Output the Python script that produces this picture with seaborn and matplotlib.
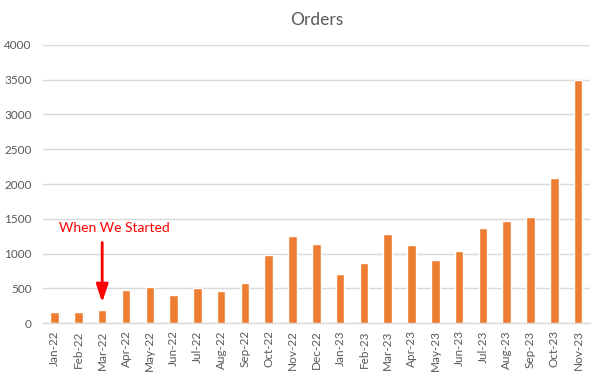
import matplotlib
matplotlib.use("Agg")
import matplotlib.pyplot as plt
import seaborn as sns
import pandas as pd

months = ["Jan-22", "Feb-22", "Mar-22", "Apr-22", "May-22", "Jun-22", "Jul-22", "Aug-22",
          "Sep-22", "Oct-22", "Nov-22", "Dec-22", "Jan-23", "Feb-23", "Mar-23", "Apr-23",
          "May-23", "Jun-23", "Jul-23", "Aug-23", "Sep-23", "Oct-23", "Nov-23"]
orders = [165, 165, 195, 485, 525, 410, 510, 465, 580, 985, 1255, 1140, 710, 865,
          1285, 1125, 910, 1040, 1370, 1470, 1530, 2090, 3500]
yticks = [0, 500, 1000, 1500, 2000, 2500, 3000, 3500, 4000]
title = "Orders"
note = "When We Started"
note_month = "Mar-22"

sns.set_theme(style="white")
plt.rcParams["font.family"] = ["Lato", "DejaVu Sans"]

df = pd.DataFrame({"Month": months, "Orders": orders})

fig = plt.figure(figsize=(5.93, 3.77), dpi=100)
ax = fig.add_axes([0.072, 0.1424, 0.923, 0.7390])

sns.barplot(data=df, x="Month", y="Orders", color="#ED7D31", width=0.36,
            saturation=1, ax=ax, zorder=3)

ax.set_ylim(0, 4000)
ax.set_yticks(yticks)
ax.set_yticklabels([str(v) for v in yticks])
ax.set_xlim(-0.5, len(months) - 0.5)
ax.grid(axis="y", color="#D9D9D9", linewidth=1, zorder=0)
ax.set_axisbelow(True)
for s in ["top", "right", "left"]:
    ax.spines[s].set_visible(False)
ax.spines["bottom"].set_color("#D9D9D9")
ax.spines["bottom"].set_linewidth(1)
ax.set_xlabel("")
ax.set_ylabel("")

ax.tick_params(axis="y", length=0, labelsize=8.5, labelcolor="#595959", pad=8)
ax.tick_params(axis="x", which="major", length=0, labelsize=8.5, labelcolor="#595959",
               rotation=90, pad=5)
ax.set_xticks([i - 0.5 for i in range(len(months) + 1)], minor=True)
ax.tick_params(axis="x", which="minor", length=4, color="#D9D9D9", width=1)

ax.set_title(title, fontsize=12.5, color="#595959", pad=14)

idx = months.index(note_month)
ax.text(idx + 0.5, 1370, note, color="#FF0000", fontsize=10, ha="center", va="center")
ax.annotate("", xy=(idx, 300), xytext=(idx, 1160),
            arrowprops=dict(arrowstyle="-|>,head_length=0.9,head_width=0.3",
                            color="#FF0000", lw=2, shrinkA=0, shrinkB=0,
                            mutation_scale=12))

fig.savefig("out.png", dpi=100)
